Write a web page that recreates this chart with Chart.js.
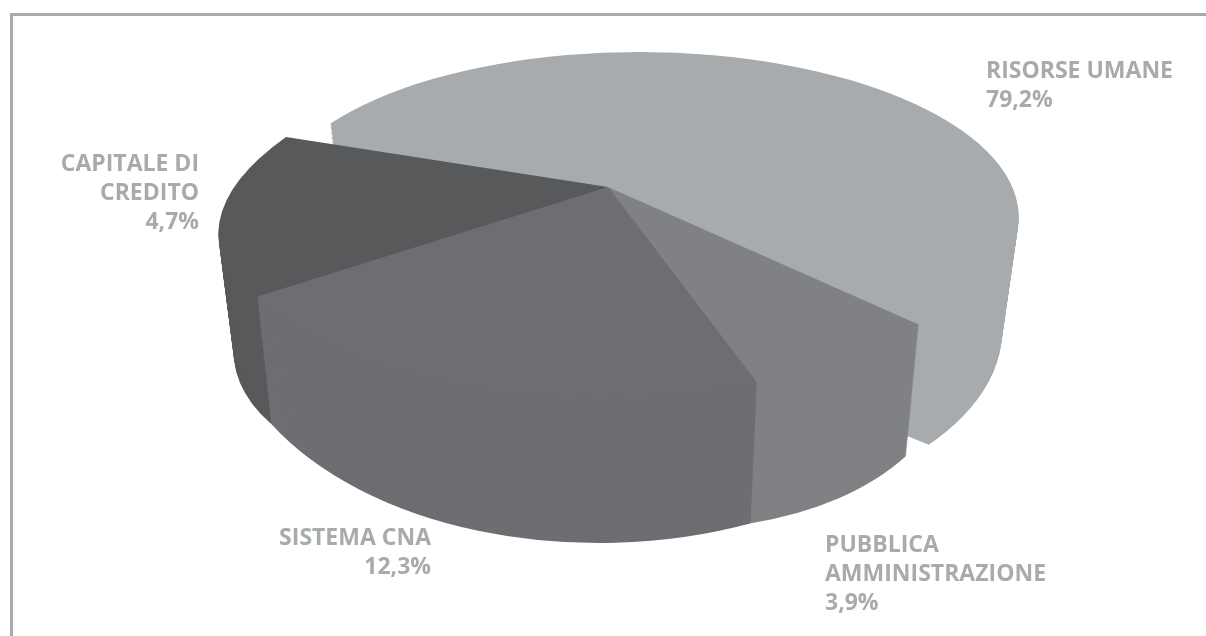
<!DOCTYPE html>
<html lang="it">
<head>
<meta charset="utf-8">
<title>Ripartizione</title>
<script src="https://cdn.jsdelivr.net/npm/chart.js@4"></script>
<style>
  html, body { margin: 0; padding: 0; background: #fff; }
  #frame { position: absolute; left: 10px; top: 13px; right: 0; bottom: 0; border-top: 3px solid #a7abae; border-left: 3px solid #a7abae; }
  canvas { position: absolute; left: 0; top: 0; }
</style>
</head>
<body>
<div id="frame"></div>
<canvas id="pie" width="1206" height="636"></canvas>
<script>
// printed labels
const categories = ["RISORSE UMANE", "PUBBLICA AMMINISTRAZIONE", "SISTEMA CNA", "CAPITALE DI CREDITO"]
const percentLabels = ["79,2%", "3,9%", "12,3%", "4,7%"]
// share of the turn each slice really takes in the picture: the drawing
// does not follow the printed percentages, so these are read off the shape
const sliceShares = [51.1, 9.44, 22.8, 16.66]
const sliceColors = ["#a7abae", "#808184", "#6d6e72", "#58595b"]

// where each label sits: x, first baseline, alignment, line breaks
const labelLayout = [
  { x: 986, y: 78, align: "left", lines: ["RISORSE UMANE"] },
  { x: 825, y: 552, align: "left", lines: ["PUBBLICA", "AMMINISTRAZIONE"] },
  { x: 431, y: 545, align: "right", lines: ["SISTEMA CNA"] },
  { x: 199, y: 171, align: "right", lines: ["CAPITALE DI", "CREDITO"] },
]

// per slice projection of the flat pie: centre and 2x2 matrix in px per radius
const sliceViews = [
  { x: 643.7, y: 215, m: [375, 0, 5, 163] },
  { x: 608, y: 187, m: [364.9, 18.9, 38.1, 199.9] },
  { x: 608, y: 187, m: [403.1, -18.8, 25.7, 212.2] },
  { x: 608, y: 187, m: [389.6, -45.7, -1.8, 157.2] },
]
const drawOrder = [0, 3, 1, 2]
const vanishX = 600
const depth = { sx: 0.96, sy: 1.16, dy: 79, steps: 80 }

function project(ctx, chart, arc, view, t) {
  const r = arc.outerRadius
  ctx.translate(vanishX, depth.dy * t)
  ctx.scale(1 - (1 - depth.sx) * t, 1 + (depth.sy - 1) * t)
  ctx.translate(-vanishX, 0)
  ctx.translate(view.x, view.y)
  ctx.transform(view.m[0] / r, view.m[1] / r, view.m[2] / r, view.m[3] / r, 0, 0)
  ctx.translate(-arc.x, -arc.y)
}

const pie3d = {
  id: "pie3d",
  beforeDatasetsDraw(chart) {
    const ctx = chart.ctx
    const arcs = chart.getDatasetMeta(0).data
    drawOrder.forEach((i) => {
      for (let s = depth.steps; s >= 0; s--) {
        ctx.save()
        project(ctx, chart, arcs[i], sliceViews[i], s / depth.steps)
        arcs[i].draw(ctx)
        ctx.restore()
      }
    })
    return false
  },
  afterDraw(chart) {
    const ctx = chart.ctx
    ctx.save()
    ctx.font = "bold 23px 'Open Sans', sans-serif"
    ctx.fillStyle = "#a7abae"
    ctx.textBaseline = "alphabetic"
    labelLayout.forEach((label, i) => {
      ctx.textAlign = label.align
      label.lines.concat(percentLabels[i]).forEach((line, n) => {
        ctx.fillText(line, label.x, label.y + n * 29)
      })
    })
    ctx.restore()
  },
}

new Chart(document.getElementById("pie"), {
  type: "pie",
  plugins: [pie3d],
  data: {
    labels: categories,
    datasets: [{
      data: sliceShares,
      backgroundColor: sliceColors,
      borderWidth: 0,
    }],
  },
  options: {
    responsive: false,
    animation: false,
    rotation: -56,
    plugins: { legend: { display: false }, tooltip: { enabled: false } },
  },
})
</script>
</body>
</html>
